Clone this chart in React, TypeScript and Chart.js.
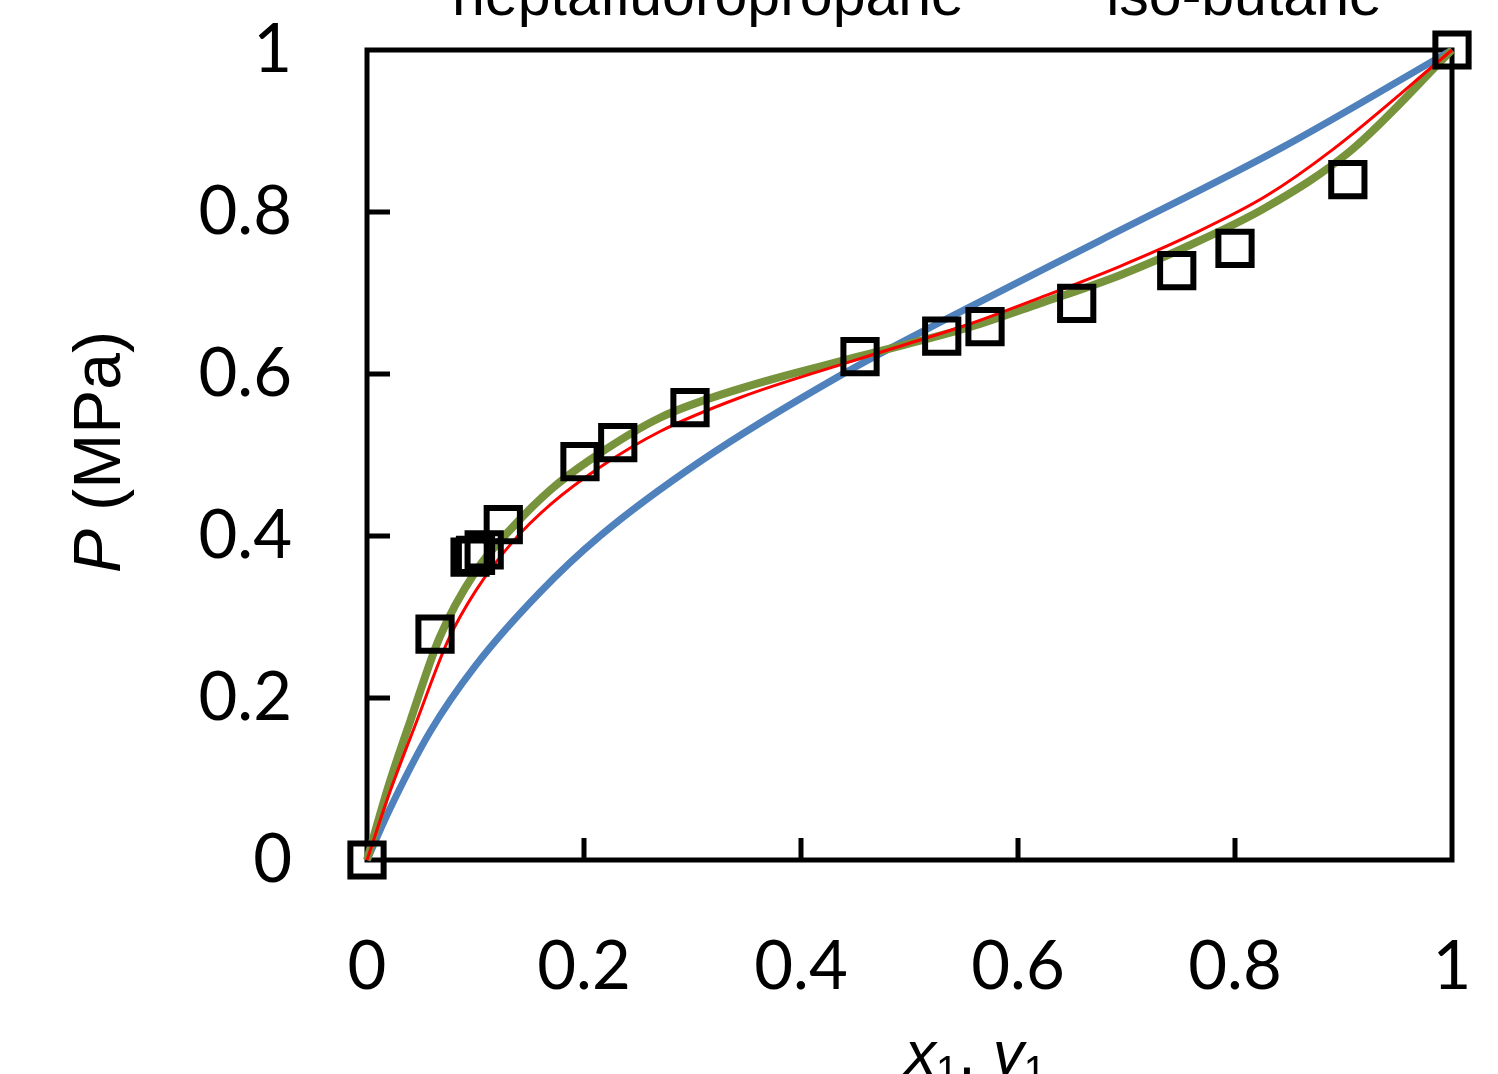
import React, { useEffect, useRef } from "react";
import { Chart, registerables } from "chart.js";

Chart.register(...registerables);

// Experimental points (x1 / y1, P in MPa)
const EXP_X = [0, 0.0627, 0.095, 0.1, 0.108, 0.1256, 0.1963, 0.2311, 0.2977, 0.4544, 0.5297, 0.5696, 0.6541, 0.7463, 0.8, 0.904, 1];
const EXP_P = [0, 0.279, 0.374, 0.376, 0.383, 0.414, 0.4917, 0.5152, 0.5584, 0.6214, 0.6469, 0.6584, 0.6873, 0.7276, 0.7551, 0.84, 1];

// Model curve 1 (blue)
const BLUE_X = [0, 0.02, 0.058, 0.1, 0.159, 0.2147, 0.307, 0.436, 0.54, 0.676, 0.844, 1];
const BLUE_P = [0, 0.06, 0.158, 0.24, 0.33, 0.4, 0.492, 0.598, 0.672, 0.765, 0.88, 1];

// Model curve 2 (red)
const RED_X = [0, 0.02, 0.046, 0.075, 0.1, 0.135, 0.17, 0.2147, 0.27, 0.344, 0.4544, 0.556, 0.62, 0.694, 0.76, 0.829, 0.89, 1];
const RED_P = [0, 0.08, 0.172, 0.272, 0.332, 0.394, 0.44, 0.485, 0.529, 0.571, 0.619, 0.662, 0.694, 0.733, 0.772, 0.82, 0.877, 1];

// Model curve 3 (green)
const GREEN_X = [0, 0.02, 0.04, 0.067, 0.1, 0.135, 0.17, 0.2055, 0.27, 0.344, 0.4544, 0.556, 0.62, 0.694, 0.76, 0.829, 0.906, 1];
const GREEN_P = [0, 0.092, 0.172, 0.275, 0.356, 0.412, 0.458, 0.494, 0.546, 0.582, 0.622, 0.658, 0.687, 0.722, 0.76, 0.806, 0.875, 1];

const X_TICKS = [0, 0.2, 0.4, 0.6, 0.8, 1];
const Y_TICKS = [0, 0.2, 0.4, 0.6, 0.8, 1];
const X_TICK_LABELS = ["0", "0.2", "0.4", "0.6", "0.8", "1"];
const Y_TICK_LABELS = ["0", "0.2", "0.4", "0.6", "0.8", "1"];

const TOP_LEFT_LABEL = "heptafluoropropane";
const TOP_RIGHT_LABEL = "iso-butane";

const pts = (xs: number[], ys: number[]) => xs.map((x, i) => ({ x, y: ys[i] }));

const labelFor = (ticks: number[], labels: string[], v: number) => {
  const i = ticks.findIndex((t) => Math.abs(t - v) < 1e-6);
  return i >= 0 ? labels[i] : "";
};

const zeroPad = (s: any) => {
  s.paddingTop = 0;
  s.paddingBottom = 0;
  s.paddingLeft = 0;
  s.paddingRight = 0;
};

const decor = {
  id: "decor",
  beforeDatasetsDraw(chart: any) {
    const { ctx, chartArea: a, scales } = chart;
    ctx.save();
    ctx.strokeStyle = "#000";
    ctx.lineWidth = 5;
    ctx.lineJoin = "miter";
    ctx.strokeRect(a.left, a.top, a.right - a.left, a.bottom - a.top);
    ctx.beginPath();
    for (const v of Y_TICKS.slice(1, -1)) {
      const y = scales.y.getPixelForValue(v);
      ctx.moveTo(a.left, y);
      ctx.lineTo(a.left + 23, y);
    }
    for (const v of X_TICKS.slice(1, -1)) {
      const x = scales.x.getPixelForValue(v);
      ctx.moveTo(x, a.bottom);
      ctx.lineTo(x, a.bottom - 22);
    }
    ctx.stroke();
    ctx.restore();
  },
  afterDraw(chart: any) {
    const { ctx } = chart;
    ctx.save();
    ctx.fillStyle = "#000";
    // top labels
    ctx.font = '59px "Liberation Sans", Arial, sans-serif';
    ctx.textAlign = "center";
    ctx.textBaseline = "alphabetic";
    ctx.fillText(TOP_LEFT_LABEL, 708, 15);
    ctx.fillText(TOP_RIGHT_LABEL, 1244, 15);

    // y axis title: italic P + " (MPa)", rotated
    ctx.textAlign = "left";
    const fItal = 'italic 66px "Liberation Sans", Arial, sans-serif';
    const fNorm = '66px "Liberation Sans", Arial, sans-serif';
    ctx.font = fItal;
    const wP = ctx.measureText("P").width;
    ctx.font = fNorm;
    const wRest = ctx.measureText(" (MPa)").width;
    const total = wP + wRest;
    ctx.translate(120, 452);
    ctx.rotate(-Math.PI / 2);
    ctx.font = fItal;
    ctx.fillText("P", -total / 2, 0);
    ctx.font = fNorm;
    ctx.fillText(" (MPa)", -total / 2 + wP, 0);
    ctx.setTransform(1, 0, 0, 1, 0, 0);

    // x axis title: x1, y1
    const fx = 'italic 62px "Liberation Sans", Arial, sans-serif';
    const fs = '40px "Liberation Sans", Arial, sans-serif';
    const fn = '62px "Liberation Sans", Arial, sans-serif';
    let cx = 905;
    const by = 1074;
    ctx.font = fx; ctx.fillText("x", cx, by); cx += ctx.measureText("x").width;
    ctx.font = fs; ctx.fillText("1", cx, by + 10); cx += ctx.measureText("1").width;
    ctx.font = fn; ctx.fillText(", ", cx, by); cx += ctx.measureText(", ").width;
    ctx.font = fx; ctx.fillText("y", cx, by); cx += ctx.measureText("y").width;
    ctx.font = fs; ctx.fillText("1", cx, by + 10);
    ctx.restore();
  },
};

export default function App() {
  const ref = useRef<HTMLCanvasElement>(null);
  useEffect(() => {
    document.body.style.margin = "0";
    const tickFont = { family: "Lato, 'Open Sans', sans-serif", size: 67 };
    const chart = new Chart(ref.current as HTMLCanvasElement, {
      type: "scatter",
      data: {
        datasets: [
          {
            label: "Experimental",
            data: pts(EXP_X, EXP_P),
            showLine: false,
            pointStyle: "rect",
            pointRadius: 23.5,
            pointBorderWidth: 6,
            pointBorderColor: "#000",
            pointBackgroundColor: "rgba(0,0,0,0)",
            clip: false,
          } as any,
          {
            label: "Red",
            data: pts(RED_X, RED_P),
            showLine: true,
            borderColor: "#FF0000",
            borderWidth: 3,
            pointRadius: 0,
            cubicInterpolationMode: "monotone",
            clip: false,
          },
          {
            label: "Green",
            data: pts(GREEN_X, GREEN_P),
            showLine: true,
            borderColor: "#77933C",
            borderWidth: 8,
            pointRadius: 0,
            cubicInterpolationMode: "monotone",
            clip: false,
          },
          {
            label: "Blue",
            data: pts(BLUE_X, BLUE_P),
            showLine: true,
            borderColor: "#4F81BD",
            borderWidth: 7,
            pointRadius: 0,
            cubicInterpolationMode: "monotone",
            clip: false,
          },
        ],
      },
      options: {
        animation: false,
        responsive: false,
        layout: { padding: { top: 50, right: 46, left: 0, bottom: 0 } },
        plugins: { legend: { display: false }, tooltip: { enabled: false } },
        scales: {
          x: {
            type: "linear",
            min: 0,
            max: 1,
            grid: { display: false, drawTicks: false },
            border: { display: false },
            ticks: {
              stepSize: 0.2,
              font: tickFont,
              color: "#000",
              padding: 67,
              maxRotation: 0,
              callback: (v: any) => labelFor(X_TICKS, X_TICK_LABELS, Number(v)),
            },
            afterFit: (s: any) => {
              s.height = 214;
              zeroPad(s);
            },
          },
          y: {
            type: "linear",
            min: 0,
            max: 1,
            grid: { display: false, drawTicks: false },
            border: { display: false },
            ticks: {
              stepSize: 0.2,
              font: tickFont,
              color: "#000",
              padding: 75,
              callback: (v: any) => labelFor(Y_TICKS, Y_TICK_LABELS, Number(v)),
            },
            afterFit: (s: any) => {
              s.width = 367;
              zeroPad(s);
            },
          },
        },
      },
      plugins: [decor],
    });
    return () => chart.destroy();
  }, []);
  return <canvas ref={ref} width={1498} height={1074} style={{ display: "block" }} />;
}
